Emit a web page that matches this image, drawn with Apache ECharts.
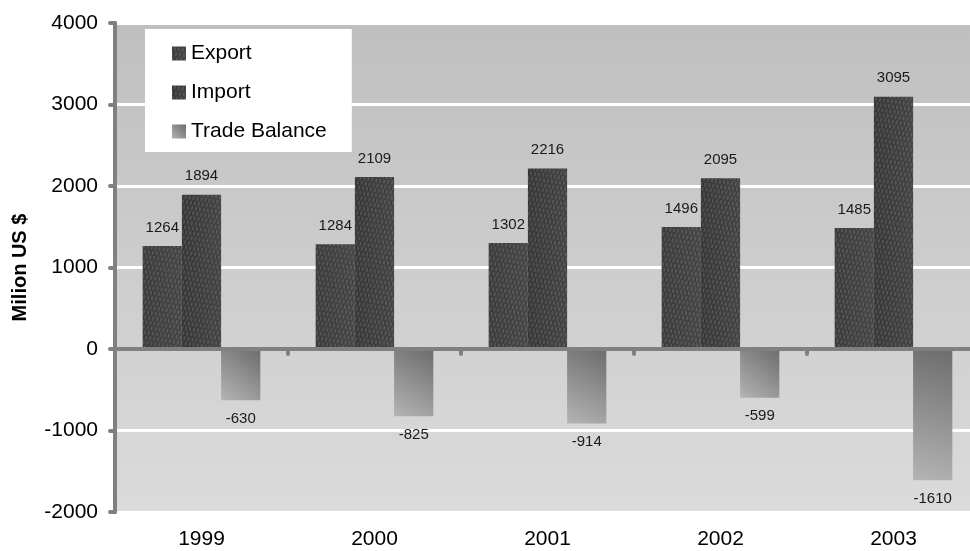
<!DOCTYPE html>
<html>
<head>
<meta charset="utf-8">
<script src="https://cdn.jsdelivr.net/npm/echarts@6/dist/echarts.min.js"></script>
<style>
  html, body { margin: 0; padding: 0; background: #ffffff; }
  #chart { width: 970px; height: 551px; }
</style>
</head>
<body>
<div id="chart"></div>
<script>
// Trade figures, million US $
const years = ['1999', '2000', '2001', '2002', '2003'];
const exportValues = [1264, 1284, 1302, 1496, 1485];
const importValues = [1894, 2109, 2216, 2095, 3095];
const balanceValues = [-630, -825, -914, -599, -1610];
const yTicks = { min: -2000, max: 4000, step: 1000 };

const FONT = 'Liberation Sans, Arial, sans-serif';

function woven(base1, base2) {
  return {
    color: {
      type: 'linear', x: 0, y: 0, x2: 1, y2: 0,
      colorStops: [{ offset: 0, color: base1 }, { offset: 1, color: base2 }]
    },
    decal: {
      symbol: 'rect',
      symbolSize: 1,
      color: 'rgba(255,255,255,0.12)',
      dashArrayX: [[1.5, 1.5], [0, 1.5, 1.5, 0]],
      dashArrayY: [4, 1],
      rotation: 0.15
    }
  };
}

const chart = echarts.init(document.getElementById('chart'), null, { renderer: 'canvas' });

const labelBase = {
  show: true,
  fontFamily: FONT,
  fontSize: 15,
  color: '#1a1a1a',
  distance: 11
};

chart.setOption({
  animation: false,
  textStyle: { fontFamily: FONT },
  grid: {
    left: 115, width: 865, top: 23, bottom: 39,
    outerBoundsMode: 'none',
    containLabel: false,
    show: true, borderWidth: 0,
    backgroundColor: {
      type: 'linear', x: 0, y: 0, x2: 0, y2: 1,
      colorStops: [{ offset: 0, color: '#bfbfbf' }, { offset: 1, color: '#dbdbdb' }]
    }
  },
  legend: {
    orient: 'vertical',
    left: 145, top: 29,
    backgroundColor: '#ffffff',
    padding: [14, 25, 10, 27],
    itemGap: 18,
    itemWidth: 14, itemHeight: 14,
    icon: 'rect',
    textStyle: { fontFamily: FONT, fontSize: 21, color: '#000000' },
    data: ['Export', 'Import', 'Trade Balance']
  },
  xAxis: [
    {
      type: 'category',
      data: years,
      position: 'bottom',
      axisLine: { onZero: true, lineStyle: { color: '#808080', width: 4 } },
      axisTick: { show: true, length: 5, inside: false, lineStyle: { color: '#808080', width: 4, cap: 'round' } },
      axisLabel: { show: false },
      splitLine: { show: false },
      z: 5
    },
    {
      type: 'category',
      data: years,
      position: 'bottom',
      axisLine: { show: false, onZero: false },
      axisTick: { show: false },
      axisLabel: { show: true, margin: 17, fontFamily: FONT, fontSize: 21, color: '#000000' },
      splitLine: { show: false }
    }
  ],
  yAxis: {
    type: 'value',
    min: yTicks.min, max: yTicks.max, interval: yTicks.step,
    name: 'Milion US $',
    nameLocation: 'middle',
    nameGap: 85,
    nameTextStyle: { fontFamily: FONT, fontSize: 20, fontWeight: 'bold', color: '#000000' },
    axisLine: { show: true, lineStyle: { color: '#808080', width: 4 } },
    axisTick: { show: true, length: 5, lineStyle: { color: '#808080', width: 4, cap: 'round' } },
    axisLabel: {
      margin: 17, fontFamily: FONT, fontSize: 21, color: '#000000',
      formatter: (v) => String(v)
    },
    splitLine: { show: true, lineStyle: { color: '#ffffff', width: 3 } }
  },
  series: [
    {
      name: 'Export', type: 'bar', xAxisIndex: 0,
      data: exportValues,
      barGap: '0%', barCategoryGap: '32%',
      itemStyle: woven('#3a3a3a', '#444444'),
      label: Object.assign({ position: 'top' }, labelBase)
    },
    {
      name: 'Import', type: 'bar', xAxisIndex: 0,
      data: importValues,
      itemStyle: woven('#363636', '#424242'),
      label: Object.assign({ position: 'top' }, labelBase)
    },
    {
      name: 'Trade Balance', type: 'bar', xAxisIndex: 0,
      data: balanceValues,
      itemStyle: {
        color: {
          type: 'linear', x: 0, y: 1, x2: 1, y2: 0,
          colorStops: [{ offset: 0, color: '#b4b4b4' }, { offset: 1, color: '#6c6c6c' }]
        }
      },
      label: Object.assign({ position: 'bottom' }, labelBase)
    }
  ]
});
</script>
</body>
</html>
